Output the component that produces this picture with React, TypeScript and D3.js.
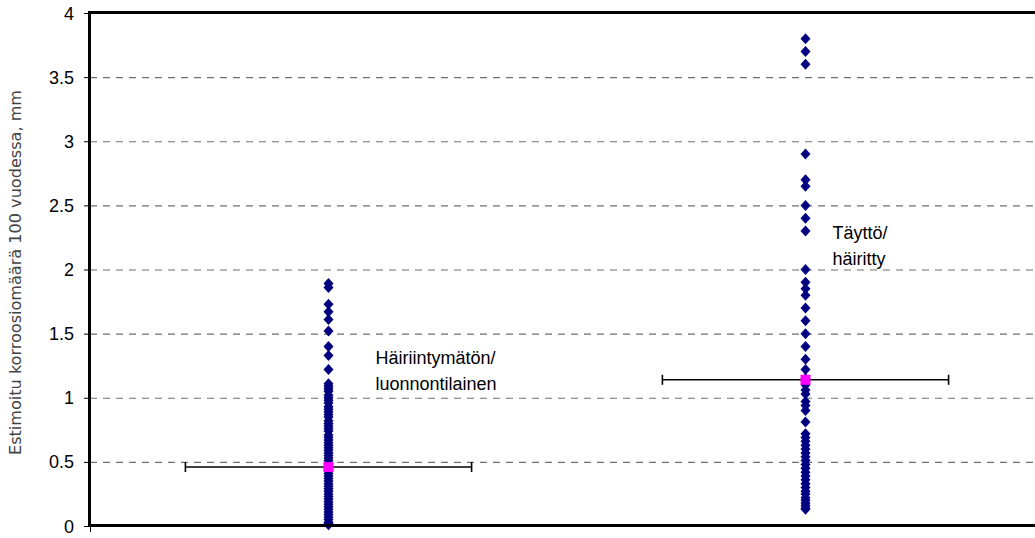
import React from "react";
import * as d3 from "d3";

const categories = [1, 2];
const groupLabels = [["Häiriintymätön/", "luonnontilainen"], ["Täyttö/", "häiritty"]];
const leftValues = [
  1.89, 1.86, 1.73, 1.67, 1.61, 1.52, 1.4, 1.33, 1.22,
  1.11, 1.09, 1.07, 1.05, 1.02, 1.0, 0.98, 0.96, 0.93, 0.91, 0.89, 0.87, 0.85,
  0.82, 0.8, 0.78, 0.76, 0.74, 0.71, 0.69, 0.67, 0.65, 0.63, 0.61, 0.59, 0.57,
  0.55, 0.53, 0.51, 0.49, 0.47, 0.45, 0.43, 0.41, 0.39, 0.37, 0.35, 0.33, 0.31,
  0.29, 0.27, 0.25, 0.23, 0.21, 0.19, 0.17, 0.15, 0.13, 0.11, 0.09, 0.07, 0.05,
  0.03, 0.02, 0.01,
];
const rightValues = [
  3.8, 3.7, 3.6, 2.9, 2.7, 2.65, 2.5, 2.4, 2.3, 2.0, 1.9, 1.85, 1.8, 1.7, 1.6,
  1.5, 1.4, 1.3, 1.22, 1.15, 1.1, 1.06, 1.03, 0.97, 0.94, 0.9, 0.81, 0.72, 0.69,
  0.66, 0.63, 0.6, 0.57, 0.54, 0.51, 0.48, 0.45, 0.42, 0.39, 0.36, 0.33, 0.3,
  0.27, 0.25, 0.22, 0.2, 0.18, 0.16, 0.14, 0.13,
];
const seriesValues = [leftValues, rightValues];
const means = [0.46, 1.14];
const errorHalfWidth = 0.3;
const yTicks = [0, 0.5, 1, 1.5, 2, 2.5, 3, 3.5, 4];
const yTitle = "Estimoitu korroosiomäärä 100 vuodessa, mm";

const W = 1035;
const H = 538;
const left = 90;
const top = 13;
const bottom = 526;
const rightEdge = 1044;

export default function App() {
  const x = d3.scaleLinear().domain([0.5, 2.5]).range([left, rightEdge]);
  const y = d3.scaleLinear().domain([0, 4]).range([bottom, top]);
  const diamond = (cx: number, cy: number) =>
    `M${cx},${cy - 5.5}L${cx + 5},${cy}L${cx},${cy + 5.5}L${cx - 5},${cy}Z`;
  const font = "'Liberation Sans', Arial, sans-serif";
  const labelOffsets = [
    { dx: 47, y0: 1.26 },
    { dx: 27, y0: 2.24 },
  ];
  return (
    <svg width={W} height={H} style={{ position: "absolute", left: 0, top: 0, background: "#fff" }}>
      {/* grid */}
      {yTicks.filter((t) => t > 0 && t < 4).map((t) => (
        <line key={t} x1={left} x2={W} y1={y(t) + 0.5} y2={y(t) + 0.5} stroke="#707070" strokeWidth={1.2} strokeDasharray="7,6" />
      ))}
      {/* error bars */}
      {categories.map((c, i) => (
        <g key={"e" + c} stroke="#000" strokeWidth={1.6}>
          <line x1={x(c - errorHalfWidth)} x2={x(c + errorHalfWidth)} y1={y(means[i])} y2={y(means[i])} />
          <line x1={x(c - errorHalfWidth)} x2={x(c - errorHalfWidth)} y1={y(means[i]) - 5} y2={y(means[i]) + 5} />
          <line x1={x(c + errorHalfWidth)} x2={x(c + errorHalfWidth)} y1={y(means[i]) - 5} y2={y(means[i]) + 5} />
        </g>
      ))}
      {/* points */}
      {categories.map((c, i) => (
        <g key={"p" + c} fill="#000080">
          {seriesValues[i].map((v, j) => (
            <path key={j} d={diamond(x(c), y(v))} />
          ))}
        </g>
      ))}
      {/* means */}
      {categories.map((c, i) => (
        <rect key={"m" + c} x={x(c) - 5} y={y(means[i]) - 5} width={10} height={10} fill="#FF00FF" />
      ))}
      {/* axes frame */}
      <line x1={left} x2={W} y1={top - 0.5} y2={top - 0.5} stroke="#000" strokeWidth={3} />
      <line x1={left - 0.5} x2={left - 0.5} y1={top - 2} y2={bottom + 1} stroke="#000" strokeWidth={3} />
      <line x1={left} x2={W} y1={bottom - 0.5} y2={bottom - 0.5} stroke="#000" strokeWidth={3} />
      {yTicks.map((t) => (
        <g key={"t" + t}>
          <line x1={left - 6} x2={left} y1={y(t) + 0.5} y2={y(t) + 0.5} stroke="#000" strokeWidth={1} />
          <text x={74} y={y(t) + 6.5} textAnchor="end" fontFamily={font} fontSize={18} fill="#000">
            {t}
          </text>
        </g>
      ))}
      <line x1={left + 0.5} x2={left + 0.5} y1={bottom} y2={bottom + 6} stroke="#000" strokeWidth={1} />
      {/* y title */}
      <text
        transform={`translate(21,${(top + bottom) / 2 + 3}) rotate(-90)`}
        textAnchor="middle"
        fontFamily="'Liberation Sans Narrow', 'DejaVu Sans Condensed', Arial, sans-serif"
        fontSize={15}
        fill="#444"
        textLength={365}
        lengthAdjust="spacingAndGlyphs"
      >
        {yTitle}
      </text>
      {/* group labels */}
      {categories.map((c, i) => (
        <text key={"l" + c} fontFamily={font} fontSize={18} fill="#000">
          {groupLabels[i].map((s, k) => (
            <tspan key={k} x={x(c) + labelOffsets[i].dx} y={y(labelOffsets[i].y0) + k * 26}>
              {s}
            </tspan>
          ))}
        </text>
      ))}
    </svg>
  );
}
